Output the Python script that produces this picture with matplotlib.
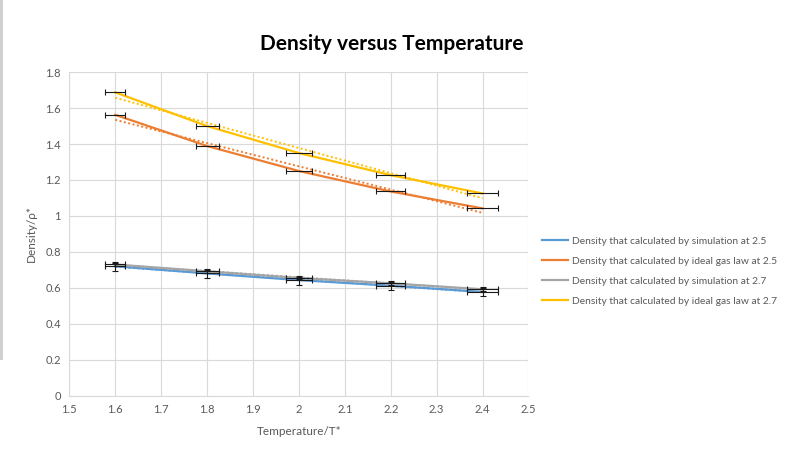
import matplotlib
matplotlib.use("Agg")
import matplotlib.pyplot as plt
import numpy as np
from matplotlib.patches import Rectangle

plt.rcParams["font.family"] = ["Lato", "DejaVu Sans"]

# data
TEMP = [1.6, 1.8, 2.0, 2.2, 2.4]
SIM_25 = [0.720, 0.680, 0.643, 0.612, 0.577]
IDEAL_25 = [1.5625, 1.389, 1.250, 1.136, 1.042]
SIM_27 = [0.730, 0.692, 0.655, 0.625, 0.592]
IDEAL_27 = [1.6875, 1.500, 1.350, 1.227, 1.125]

XERR = [0.022, 0.025, 0.029, 0.031, 0.033]
YERR_SIM_25 = [0.025, 0.025, 0.025, 0.025, 0.025]
YERR_SIM_27 = [0.008, 0.008, 0.008, 0.008, 0.008]

LABELS = [
    "Density that calculated by simulation at 2.5",
    "Density that calculated by ideal gas law at 2.5",
    "Density that calculated by simulation at 2.7",
    "Density that calculated by ideal gas law at 2.7",
]
COLORS = ["#5B9BD5", "#ED7D31", "#A5A5A5", "#FFC000"]

X_TICKS = [1.5, 1.6, 1.7, 1.8, 1.9, 2.0, 2.1, 2.2, 2.3, 2.4, 2.5]
X_TICK_LABELS = ["1.5", "1.6", "1.7", "1.8", "1.9", "2", "2.1", "2.2", "2.3", "2.4", "2.5"]
Y_TICKS = [0, 0.2, 0.4, 0.6, 0.8, 1.0, 1.2, 1.4, 1.6, 1.8]
Y_TICK_LABELS = ["0", "0.2", "0.4", "0.6", "0.8", "1", "1.2", "1.4", "1.6", "1.8"]

TEXT_COLOR = "#595959"
GRID_COLOR = "#D9D9D9"

fig = plt.figure(figsize=(8, 4.5), dpi=100)
ax = fig.add_axes([0.0866, 0.1207, 0.574, 0.719])

series = [
    (SIM_25, YERR_SIM_25),
    (IDEAL_25, None),
    (SIM_27, YERR_SIM_27),
    (IDEAL_27, None),
]

handles = []
x = np.array(TEMP)
for (vals, yerr), color, label in zip(series, COLORS, LABELS):
    (h,) = ax.plot(TEMP, vals, color=color, lw=1.6, label=label, zorder=3)
    handles.append(h)
    # linear trendline like Excel
    k, b = np.polyfit(x, np.array(vals), 1)
    xs = np.array([x.min(), x.max()])
    ax.plot(xs, k * xs + b, color=color, lw=1.4, linestyle=(0, (1, 1.3)), zorder=3)
    ax.errorbar(
        TEMP,
        vals,
        xerr=XERR,
        yerr=yerr,
        fmt="none",
        ecolor="#1a1a1a",
        elinewidth=0.8,
        capsize=2.5,
        capthick=0.8,
        zorder=4,
    )

ax.set_xlim(1.5, 2.5)
ax.set_ylim(0, 1.8)
ax.set_xticks(X_TICKS)
ax.set_xticklabels(X_TICK_LABELS)
ax.set_yticks(Y_TICKS)
ax.set_yticklabels(Y_TICK_LABELS)
ax.tick_params(length=0, labelsize=8, colors=TEXT_COLOR, pad=6)
ax.grid(True, color=GRID_COLOR, lw=0.8)
ax.set_axisbelow(True)
for side in ["top", "right"]:
    ax.spines[side].set_visible(False)
for side in ["left", "bottom"]:
    ax.spines[side].set_color(GRID_COLOR)
    ax.spines[side].set_linewidth(0.8)

ax.set_xlabel("Temperature/T*", fontsize=8.5, color=TEXT_COLOR, labelpad=8)
ax.set_ylabel("Density/ρ*", fontsize=8.5, color=TEXT_COLOR, labelpad=6)

fig.text(0.49, 0.902, "Density versus Temperature", ha="center", va="center",
         fontsize=15, fontweight="bold", color="black")

fig.legend(
    handles=handles,
    loc="center left",
    bbox_to_anchor=(0.678, 0.397),
    frameon=False,
    fontsize=7.4,
    handlelength=2.5,
    handletextpad=0.35,
    labelspacing=1.05,
    borderpad=0,
    borderaxespad=0,
    labelcolor=TEXT_COLOR,
)

# thin grey strip at the left edge of the screenshot
fig.patches.append(Rectangle((0, 0.2), 0.004, 0.8, transform=fig.transFigure,
                             color="#D0D0D0", lw=0))

fig.savefig("out.png", dpi=100)
